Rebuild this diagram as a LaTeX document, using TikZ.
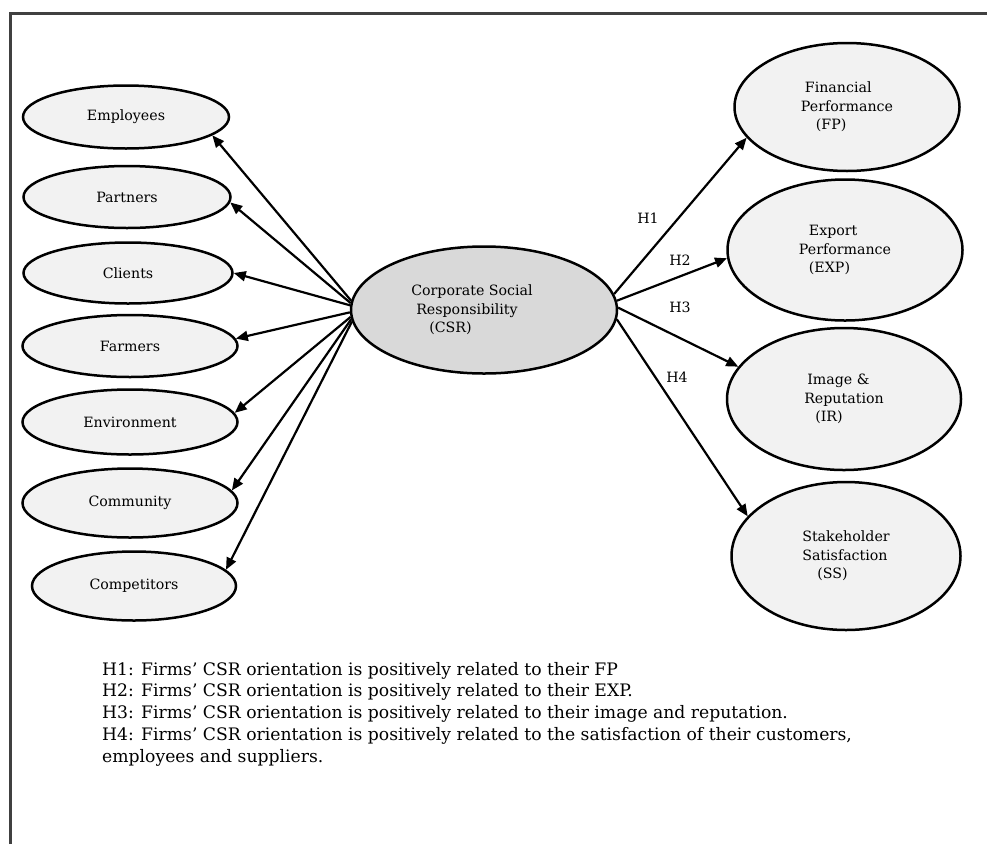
\documentclass[tikz,border=0pt]{standalone}
\usepackage{fontspec}
\setmainfont{DejaVu Serif}
\usetikzlibrary{shapes.geometric,arrows.meta}

\begin{document}
\begin{tikzpicture}[x=1pt,y=-1pt,
  box/.style={ellipse,draw,line width=2.5pt,fill=gray!10,inner sep=0pt,align=left,font=\fontsize{14.2}{18.5}\selectfont},
  core/.style={box,fill=gray!30},
  link/.style={-{Triangle[length=12pt,width=10pt]},line width=2.2pt},
  hyp/.style={font=\fontsize{14.2}{18.5}\selectfont}]
%\draw[step=10,gray,very thin] (0,0) grid (987,844); %background grid
\useasboundingbox (0,0) rectangle (987,844);
\draw[line width=3pt,black!75] (10,844)--(10,13)--(987,13);

\node[core,minimum width=266pt,minimum height=127pt] (csr) at (484,310) {Corporate Social\hspace*{24pt}\\\hspace*{5pt}Responsibility\\\hspace*{18pt}(CSR)};

\node[box,minimum width=206pt,minimum height=63pt] (emp) at (126,117) {Employees};
\node[box,minimum width=207pt,minimum height=62pt] (par) at (127,197) {Partners};
\node[box,minimum width=209pt,minimum height=61pt] (cli) at (128,273) {Clients};
\node[box,minimum width=215pt,minimum height=62pt] (far) at (130,346) {Farmers};
\node[box,minimum width=215pt,minimum height=65pt] (env) at (130,422) {Environment};
\node[box,minimum width=215pt,minimum height=69pt] (com) at (130,503) {Community};
\node[box,minimum width=204pt,minimum height=69pt] (cmp) at (134,586) {Competitors};

\node[box,minimum width=225pt,minimum height=128pt] (fp) at (847,107) {\hspace*{4pt}Financial\\Performance\\\hspace*{15pt}(FP)};
\node[box,minimum width=235pt,minimum height=141pt] (ep) at (845,250) {\hspace*{10pt}Export\\Performance\\\hspace*{10pt}(EXP)};
\node[box,minimum width=234pt,minimum height=142pt] (ir) at (844,399) {\hspace*{3pt}Image \&\\Reputation\\\hspace*{11pt}(IR)};
\node[box,minimum width=229pt,minimum height=148pt] (ss) at (846,556) {Stakeholder\\Satisfaction\\\hspace*{15pt}(SS)};

\draw[link] (csr.176) -- (emp.-12);
\draw[link] (csr.177) -- (par.-3);
\draw[link] (csr.178) -- (cli.0);
\draw[link] (csr.181) -- (far.4);
\draw[link] (csr.183) -- (env.5);
\draw[link] (csr.184) -- (com.7);
\draw[link] (csr.185) -- (cmp.10);

\draw[link] (csr.7) -- (fp.197);
\draw[link] (csr.4) -- (ep.184);
\draw[link] (csr.1) -- (ir.163);
\draw[link] (csr.-4) -- (ss.158);

\node[hyp] (h1) at (648,218) {H1};
\node[hyp] (h2) at (680,260) {H2};
\node[hyp] (h3) at (680,307) {H3};
\node[hyp] (h4) at (677,377) {H4};

\node[anchor=north west,inner sep=0pt,align=left,font=\fontsize{17.2}{21.7}\selectfont] (notes) at (102,662) {H1: Firms' CSR orientation is positively related to their FP\\
H2: Firms' CSR orientation is positively related to their EXP.\\
H3: Firms' CSR orientation is positively related to their image and reputation.\\
H4: Firms' CSR orientation is positively related to the satisfaction of their customers,\\
employees and suppliers.};

\end{tikzpicture}
\end{document}
